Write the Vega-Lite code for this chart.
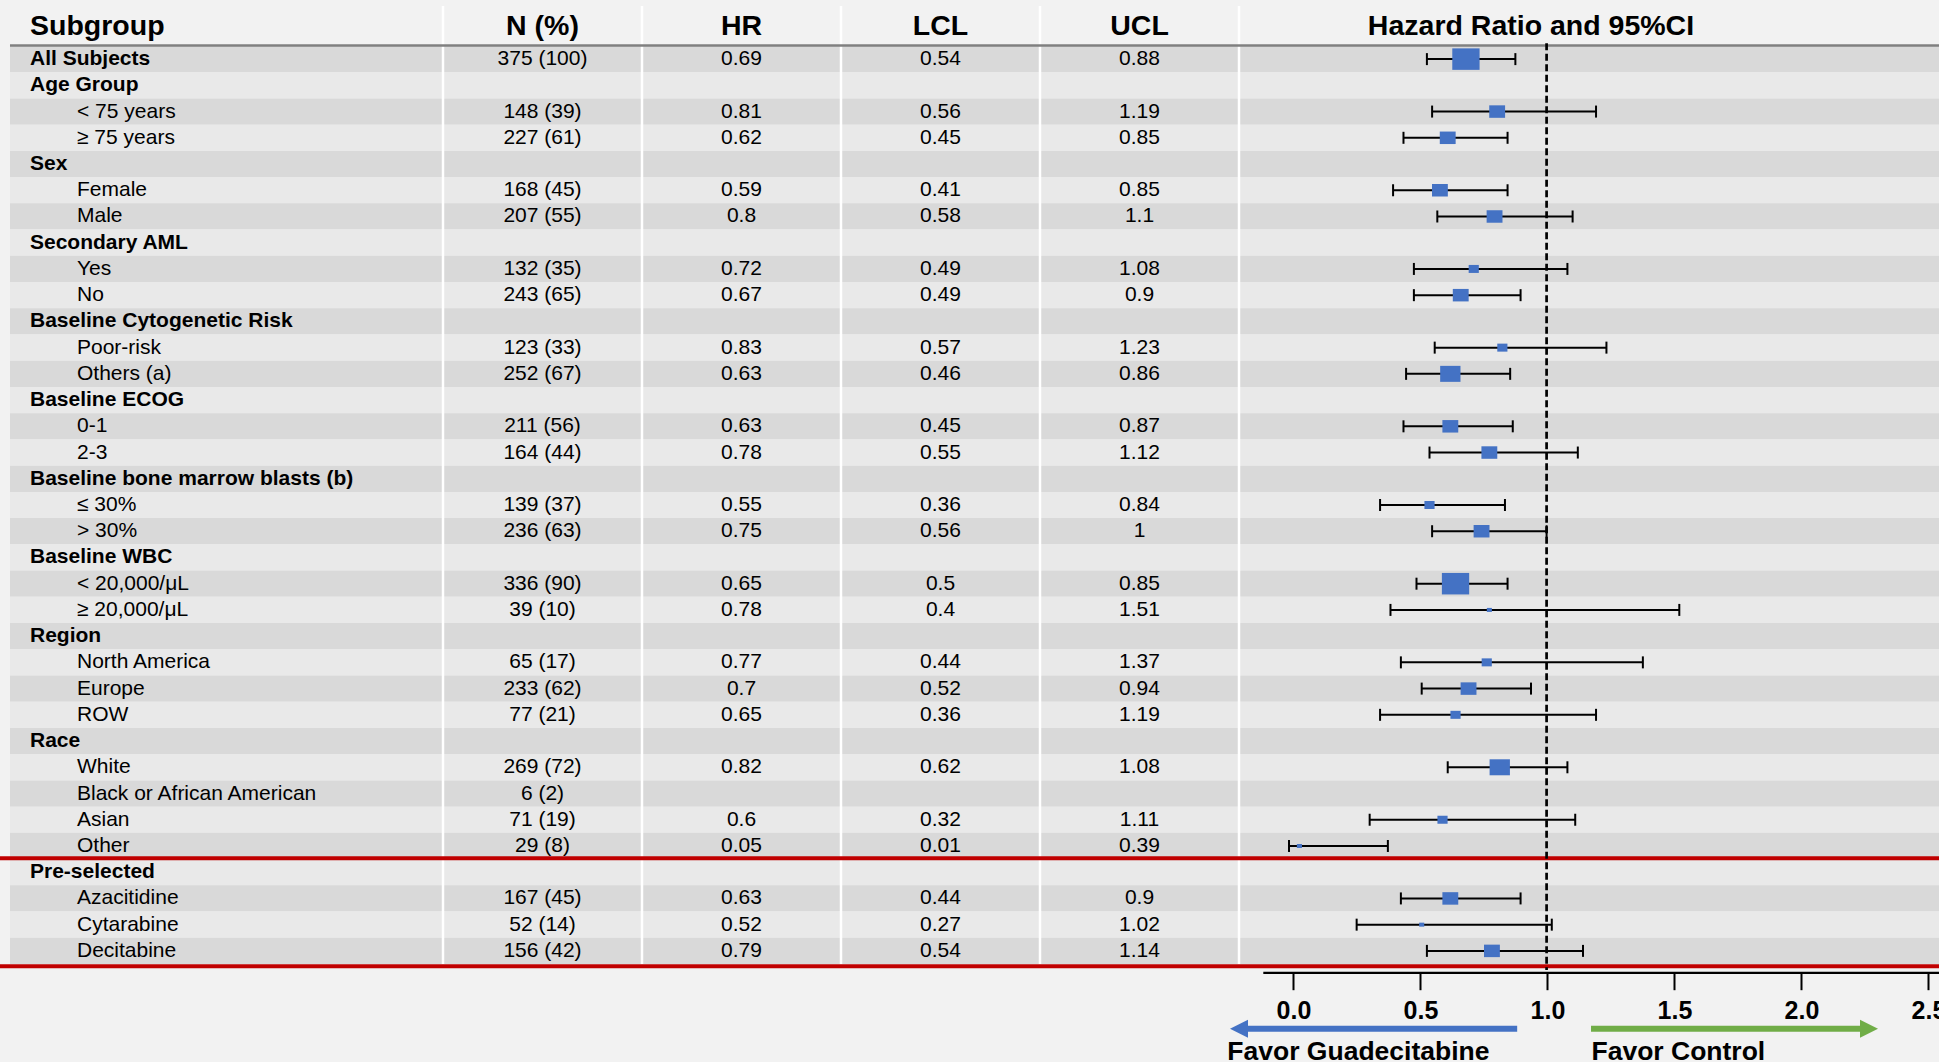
{
  "$schema": "https://vega.github.io/schema/vega-lite/v6.json",
  "width": 1939,
  "height": 1062,
  "autosize": {"type": "none"},
  "padding": 0,
  "background": "#f2f2f2",
  "config": {"view": {"stroke": null}, "font": "Liberation Sans", "text": {"font": "Liberation Sans"}},
  "data": {"values": [{}]},
  "datasets": {
    "rows": [
      {"i":1,"label":"All Subjects","lvl":"group","np":"375 (100)","N":375,"HR":0.69,"LCL":0.54,"UCL":0.88},
      {"i":2,"label":"Age Group","lvl":"group"},
      {"i":3,"label":"< 75 years","lvl":"item","np":"148 (39)","N":148,"HR":0.81,"LCL":0.56,"UCL":1.19},
      {"i":4,"label":"≥ 75 years","lvl":"item","np":"227 (61)","N":227,"HR":0.62,"LCL":0.45,"UCL":0.85},
      {"i":5,"label":"Sex","lvl":"group"},
      {"i":6,"label":"Female","lvl":"item","np":"168 (45)","N":168,"HR":0.59,"LCL":0.41,"UCL":0.85},
      {"i":7,"label":"Male","lvl":"item","np":"207 (55)","N":207,"HR":0.8,"LCL":0.58,"UCL":1.1},
      {"i":8,"label":"Secondary AML","lvl":"group"},
      {"i":9,"label":"Yes","lvl":"item","np":"132 (35)","N":132,"HR":0.72,"LCL":0.49,"UCL":1.08},
      {"i":10,"label":"No","lvl":"item","np":"243 (65)","N":243,"HR":0.67,"LCL":0.49,"UCL":0.9},
      {"i":11,"label":"Baseline Cytogenetic Risk","lvl":"group"},
      {"i":12,"label":"Poor-risk","lvl":"item","np":"123 (33)","N":123,"HR":0.83,"LCL":0.57,"UCL":1.23},
      {"i":13,"label":"Others (a)","lvl":"item","np":"252 (67)","N":252,"HR":0.63,"LCL":0.46,"UCL":0.86},
      {"i":14,"label":"Baseline ECOG","lvl":"group"},
      {"i":15,"label":"0-1","lvl":"item","np":"211 (56)","N":211,"HR":0.63,"LCL":0.45,"UCL":0.87},
      {"i":16,"label":"2-3","lvl":"item","np":"164 (44)","N":164,"HR":0.78,"LCL":0.55,"UCL":1.12},
      {"i":17,"label":"Baseline bone marrow blasts (b)","lvl":"group"},
      {"i":18,"label":"≤ 30%","lvl":"item","np":"139 (37)","N":139,"HR":0.55,"LCL":0.36,"UCL":0.84},
      {"i":19,"label":"> 30%","lvl":"item","np":"236 (63)","N":236,"HR":0.75,"LCL":0.56,"UCL":1},
      {"i":20,"label":"Baseline WBC","lvl":"group"},
      {"i":21,"label":"< 20,000/μL","lvl":"item","np":"336 (90)","N":336,"HR":0.65,"LCL":0.5,"UCL":0.85},
      {"i":22,"label":"≥ 20,000/μL","lvl":"item","np":"39 (10)","N":39,"HR":0.78,"LCL":0.4,"UCL":1.51},
      {"i":23,"label":"Region","lvl":"group"},
      {"i":24,"label":"North America","lvl":"item","np":"65 (17)","N":65,"HR":0.77,"LCL":0.44,"UCL":1.37},
      {"i":25,"label":"Europe","lvl":"item","np":"233 (62)","N":233,"HR":0.7,"LCL":0.52,"UCL":0.94},
      {"i":26,"label":"ROW","lvl":"item","np":"77 (21)","N":77,"HR":0.65,"LCL":0.36,"UCL":1.19},
      {"i":27,"label":"Race","lvl":"group"},
      {"i":28,"label":"White","lvl":"item","np":"269 (72)","N":269,"HR":0.82,"LCL":0.62,"UCL":1.08},
      {"i":29,"label":"Black or African American","lvl":"item","np":"6 (2)","N":6},
      {"i":30,"label":"Asian","lvl":"item","np":"71 (19)","N":71,"HR":0.6,"LCL":0.32,"UCL":1.11},
      {"i":31,"label":"Other","lvl":"item","np":"29 (8)","N":29,"HR":0.05,"LCL":0.01,"UCL":0.39},
      {"i":32,"label":"Pre-selected","lvl":"group"},
      {"i":33,"label":"Azacitidine","lvl":"item","np":"167 (45)","N":167,"HR":0.63,"LCL":0.44,"UCL":0.9},
      {"i":34,"label":"Cytarabine","lvl":"item","np":"52 (14)","N":52,"HR":0.52,"LCL":0.27,"UCL":1.02},
      {"i":35,"label":"Decitabine","lvl":"item","np":"156 (42)","N":156,"HR":0.79,"LCL":0.54,"UCL":1.14}
    ],
    "hdr": [
      {"col":"np","t":"N (%)"},
      {"col":"HR","t":"HR"},
      {"col":"LCL","t":"LCL"},
      {"col":"UCL","t":"UCL"}
    ]
  },
  "resolve": {"scale": {"x": "independent", "y": "independent"}},
  "layer": [
    {
      "data": {"name": "rows"},
      "mark": {"type": "rect", "strokeWidth": 0},
      "encoding": {
        "y": {"field": "i", "type": "ordinal", "scale": {"type": "band", "domain": [1,2,3,4,5,6,7,8,9,10,11,12,13,14,15,16,17,18,19,20,21,22,23,24,25,26,27,28,29,30,31,32,33,34,35], "range": [46, 964], "paddingInner": 0, "paddingOuter": 0}, "axis": null},
        "x": {"datum": -4.9055, "type": "quantitative", "scale": {"domain": [-4.9439, 2.5081], "nice": false, "zero": false}, "axis": null},
        "x2": {"datum": 2.5081},
        "fill": {"condition": {"test": "datum.i % 2 == 1", "value": "#d9d9d9"}, "value": "#e9e9e9"}
      }
    },
    {
      "data": {"name": "hdr"},
      "mark": {"type": "rule", "color": "#ffffff", "strokeWidth": 2.5},
      "encoding": {
        "x": {"field": "col", "type": "nominal", "bandPosition": 0, "scale": {"type": "band", "domain": ["np","HR","LCL","UCL"], "range": [443, 1239], "paddingInner": 0, "paddingOuter": 0}, "axis": null},
        "y": {"datum": -1.025, "type": "quantitative", "scale": {"domain": [-1.2537, 39.235], "reverse": true, "nice": false, "zero": false}, "axis": null},
        "y2": {"datum": 35.5}
      }
    },
    {
      "data": {"name": "hdr"},
      "transform": [{"filter": "datum.col == 'UCL'"}],
      "mark": {"type": "rule", "color": "#ffffff", "strokeWidth": 2.5},
      "encoding": {
        "x": {"field": "col", "type": "nominal", "bandPosition": 1, "scale": {"type": "band", "domain": ["np","HR","LCL","UCL"], "range": [443, 1239], "paddingInner": 0, "paddingOuter": 0}, "axis": null},
        "y": {"datum": -1.025, "type": "quantitative", "scale": {"domain": [-1.2537, 39.235], "reverse": true, "nice": false, "zero": false}, "axis": null},
        "y2": {"datum": 35.5}
      }
    },
    {
      "mark": {"type": "rule", "color": "#808080", "strokeWidth": 2.5},
      "encoding": {
        "x": {"datum": -4.9055, "type": "quantitative", "scale": {"domain": [-4.9439, 2.5081], "nice": false, "zero": false}, "axis": null},
        "x2": {"datum": 2.5081},
        "y": {"datum": 0.48, "type": "quantitative", "scale": {"domain": [-1.2537, 39.235], "reverse": true, "nice": false, "zero": false}, "axis": null}
      }
    },
    {
      "data": {"name": "rows"},
      "transform": [{"filter": "datum.lvl == 'group'"}],
      "mark": {"type": "text", "align": "left", "baseline": "middle", "fontSize": 21, "fontWeight": "bold", "color": "#000000"},
      "encoding": {
        "x": {"field": "lvl", "type": "nominal", "scale": {"type": "point", "domain": ["group","item"], "range": [30, 77], "padding": 0}, "axis": null},
        "y": {"field": "i", "type": "ordinal", "scale": {"type": "band", "domain": [1,2,3,4,5,6,7,8,9,10,11,12,13,14,15,16,17,18,19,20,21,22,23,24,25,26,27,28,29,30,31,32,33,34,35], "range": [46, 964], "paddingInner": 0, "paddingOuter": 0}, "axis": null},
        "text": {"field": "label", "type": "nominal"}
      }
    },
    {
      "data": {"name": "rows"},
      "transform": [{"filter": "datum.lvl == 'item'"}],
      "mark": {"type": "text", "align": "left", "baseline": "middle", "fontSize": 21, "fontWeight": "normal", "color": "#000000"},
      "encoding": {
        "x": {"field": "lvl", "type": "nominal", "scale": {"type": "point", "domain": ["group","item"], "range": [30, 77], "padding": 0}, "axis": null},
        "y": {"field": "i", "type": "ordinal", "scale": {"type": "band", "domain": [1,2,3,4,5,6,7,8,9,10,11,12,13,14,15,16,17,18,19,20,21,22,23,24,25,26,27,28,29,30,31,32,33,34,35], "range": [46, 964], "paddingInner": 0, "paddingOuter": 0}, "axis": null},
        "text": {"field": "label", "type": "nominal"}
      }
    },
    {
      "data": {"name": "rows"},
      "transform": [{"fold": ["np","HR","LCL","UCL"]}, {"filter": "isValid(datum.value)"}],
      "mark": {"type": "text", "align": "center", "baseline": "middle", "fontSize": 21, "color": "#000000"},
      "encoding": {
        "x": {"field": "key", "type": "nominal", "scale": {"type": "band", "domain": ["np","HR","LCL","UCL"], "range": [443, 1239], "paddingInner": 0, "paddingOuter": 0}, "axis": null},
        "y": {"field": "i", "type": "ordinal", "scale": {"type": "band", "domain": [1,2,3,4,5,6,7,8,9,10,11,12,13,14,15,16,17,18,19,20,21,22,23,24,25,26,27,28,29,30,31,32,33,34,35], "range": [46, 964], "paddingInner": 0, "paddingOuter": 0}, "axis": null},
        "text": {"field": "value", "type": "nominal"}
      }
    },
    {
      "data": {"name": "hdr"},
      "mark": {"type": "text", "align": "center", "baseline": "middle", "fontSize": 28.5, "fontWeight": "bold", "color": "#000000"},
      "encoding": {
        "x": {"field": "col", "type": "nominal", "scale": {"type": "band", "domain": ["np","HR","LCL","UCL"], "range": [443, 1239], "paddingInner": 0, "paddingOuter": 0}, "axis": null},
        "y": {"datum": -0.25, "type": "quantitative", "scale": {"domain": [-1.2537, 39.235], "reverse": true, "nice": false, "zero": false}, "axis": null},
        "text": {"field": "t", "type": "nominal"}
      }
    },
    {
      "mark": {"type": "text", "align": "left", "baseline": "middle", "fontSize": 28.5, "fontWeight": "bold", "color": "#000000", "text": "Subgroup"},
      "encoding": {
        "x": {"datum": "group", "type": "nominal", "scale": {"type": "point", "domain": ["group","item"], "range": [30, 77], "padding": 0}, "axis": null},
        "y": {"datum": -0.25, "type": "quantitative", "scale": {"domain": [-1.2537, 39.235], "reverse": true, "nice": false, "zero": false}, "axis": null}
      }
    },
    {
      "mark": {"type": "text", "align": "center", "baseline": "middle", "fontSize": 28.5, "fontWeight": "bold", "color": "#000000", "text": "Hazard Ratio and 95%CI"},
      "encoding": {
        "x": {"datum": 0.94, "type": "quantitative", "scale": {"domain": [-4.9439, 2.5081], "nice": false, "zero": false}, "axis": null},
        "y": {"datum": -0.25, "type": "quantitative", "scale": {"domain": [-1.2537, 39.235], "reverse": true, "nice": false, "zero": false}, "axis": null}
      }
    },
    {
      "data": {"name": "rows"},
      "transform": [{"filter": {"field": "HR", "valid": true}}],
      "mark": {"type": "rule", "color": "#000000", "strokeWidth": 2},
      "encoding": {
        "x": {"field": "LCL", "type": "quantitative", "scale": {"domain": [-4.9439, 2.5081], "nice": false, "zero": false}, "axis": null},
        "x2": {"field": "UCL"},
        "y": {"field": "i", "type": "ordinal", "scale": {"type": "band", "domain": [1,2,3,4,5,6,7,8,9,10,11,12,13,14,15,16,17,18,19,20,21,22,23,24,25,26,27,28,29,30,31,32,33,34,35], "range": [46, 964], "paddingInner": 0, "paddingOuter": 0}, "axis": null}
      }
    },
    {
      "data": {"name": "rows"},
      "transform": [{"filter": {"field": "HR", "valid": true}}],
      "mark": {"type": "tick", "color": "#000000", "size": 12, "thickness": 2, "orient": "vertical", "opacity": 1},
      "encoding": {
        "x": {"field": "LCL", "type": "quantitative", "scale": {"domain": [-4.9439, 2.5081], "nice": false, "zero": false}, "axis": null},
        "y": {"field": "i", "type": "ordinal", "scale": {"type": "band", "domain": [1,2,3,4,5,6,7,8,9,10,11,12,13,14,15,16,17,18,19,20,21,22,23,24,25,26,27,28,29,30,31,32,33,34,35], "range": [46, 964], "paddingInner": 0, "paddingOuter": 0}, "axis": null}
      }
    },
    {
      "data": {"name": "rows"},
      "transform": [{"filter": {"field": "HR", "valid": true}}],
      "mark": {"type": "tick", "color": "#000000", "size": 12, "thickness": 2, "orient": "vertical", "opacity": 1},
      "encoding": {
        "x": {"field": "UCL", "type": "quantitative", "scale": {"domain": [-4.9439, 2.5081], "nice": false, "zero": false}, "axis": null},
        "y": {"field": "i", "type": "ordinal", "scale": {"type": "band", "domain": [1,2,3,4,5,6,7,8,9,10,11,12,13,14,15,16,17,18,19,20,21,22,23,24,25,26,27,28,29,30,31,32,33,34,35], "range": [46, 964], "paddingInner": 0, "paddingOuter": 0}, "axis": null}
      }
    },
    {
      "data": {"name": "rows"},
      "transform": [{"filter": {"field": "HR", "valid": true}}],
      "mark": {"type": "point", "shape": "M-1.27,-1H1.27V1H-1.27Z", "filled": true, "color": "#4472c4", "opacity": 1, "strokeWidth": 0},
      "encoding": {
        "x": {"field": "HR", "type": "quantitative", "scale": {"domain": [-4.9439, 2.5081], "nice": false, "zero": false}, "axis": null},
        "y": {"field": "i", "type": "ordinal", "scale": {"type": "band", "domain": [1,2,3,4,5,6,7,8,9,10,11,12,13,14,15,16,17,18,19,20,21,22,23,24,25,26,27,28,29,30,31,32,33,34,35], "range": [46, 964], "paddingInner": 0, "paddingOuter": 0}, "axis": null},
        "size": {"field": "N", "type": "quantitative", "scale": {"type": "threshold", "domain": [60, 145, 250, 300], "range": [16, 64, 156, 256, 462]}, "legend": null}
      }
    },
    {
      "mark": {"type": "rule", "color": "#c00000", "strokeWidth": 4},
      "encoding": {
        "y": {"datum": 31.47, "type": "quantitative", "scale": {"domain": [-1.2537, 39.235], "reverse": true, "nice": false, "zero": false}, "axis": null}
      }
    },
    {
      "mark": {"type": "rule", "color": "#c00000", "strokeWidth": 4},
      "encoding": {
        "y": {"datum": 35.58, "type": "quantitative", "scale": {"domain": [-1.2537, 39.235], "reverse": true, "nice": false, "zero": false}, "axis": null}
      }
    },
    {
      "mark": {"type": "rule", "color": "#000000", "strokeWidth": 2.7, "strokeDash": [7, 3.5]},
      "encoding": {
        "x": {"datum": 1, "type": "quantitative", "scale": {"domain": [-4.9439, 2.5081], "nice": false, "zero": false}, "axis": null},
        "y": {"datum": 0.397, "type": "quantitative", "scale": {"domain": [-1.2537, 39.235], "reverse": true, "nice": false, "zero": false}, "axis": null},
        "y2": {"datum": 35.73}
      }
    },
    {
      "mark": {"type": "rule", "color": "#000000", "strokeWidth": 2.3},
      "encoding": {
        "x": {"datum": -0.1185, "type": "quantitative", "scale": {"domain": [-5.0921, 2.5417], "nice": false, "zero": false},
          "axis": {"orient": "bottom", "offset": -89.3, "values": [0, 0.5, 1, 1.5, 2, 2.5], "format": ".1f", "domain": false, "grid": false, "title": null, "ticks": true, "tickSize": 17, "tickWidth": 2, "tickColor": "#000000", "labelFontSize": 25, "labelFontWeight": "bold", "labelColor": "#000000", "labelFont": "Liberation Sans", "labelPadding": 9, "labelFlush": false, "labelOverlap": false, "labelBound": false}},
        "x2": {"datum": 2.5417},
        "y": {"datum": 35.834, "type": "quantitative", "scale": {"domain": [-1.2537, 39.235], "reverse": true, "nice": false, "zero": false}, "axis": null}
      }
    },
    {
      "mark": {"type": "rule", "color": "#4472c4", "strokeWidth": 6},
      "encoding": {
        "x": {"datum": 0.881, "type": "quantitative", "scale": {"domain": [-5.0921, 2.5417], "nice": false, "zero": false}, "axis": null},
        "x2": {"datum": -0.1827},
        "y": {"datum": 37.966, "type": "quantitative", "scale": {"domain": [-1.2537, 39.235], "reverse": true, "nice": false, "zero": false}, "axis": null}
      }
    },
    {
      "mark": {"type": "point", "shape": "M0,0L2,-1L2,1Z", "size": 324, "filled": true, "color": "#4472c4", "opacity": 1, "strokeWidth": 0},
      "encoding": {
        "x": {"datum": -0.2496, "type": "quantitative", "scale": {"domain": [-5.0921, 2.5417], "nice": false, "zero": false}, "axis": null},
        "y": {"datum": 37.966, "type": "quantitative", "scale": {"domain": [-1.2537, 39.235], "reverse": true, "nice": false, "zero": false}, "axis": null}
      }
    },
    {
      "mark": {"type": "rule", "color": "#70ad47", "strokeWidth": 6},
      "encoding": {
        "x": {"datum": 1.1717, "type": "quantitative", "scale": {"domain": [-5.0921, 2.5417], "nice": false, "zero": false}, "axis": null},
        "x2": {"datum": 2.2346},
        "y": {"datum": 37.966, "type": "quantitative", "scale": {"domain": [-1.2537, 39.235], "reverse": true, "nice": false, "zero": false}, "axis": null}
      }
    },
    {
      "mark": {"type": "point", "shape": "M0,0L-2,-1L-2,1Z", "size": 324, "filled": true, "color": "#70ad47", "opacity": 1, "strokeWidth": 0},
      "encoding": {
        "x": {"datum": 2.3016, "type": "quantitative", "scale": {"domain": [-5.0921, 2.5417], "nice": false, "zero": false}, "axis": null},
        "y": {"datum": 37.966, "type": "quantitative", "scale": {"domain": [-1.2537, 39.235], "reverse": true, "nice": false, "zero": false}, "axis": null}
      }
    },
    {
      "mark": {"type": "text", "align": "left", "baseline": "alphabetic", "fontSize": 26.5, "fontWeight": "bold", "color": "#000000", "text": "Favor Guadecitabine"},
      "encoding": {
        "x": {"datum": -0.2602, "type": "quantitative", "scale": {"domain": [-5.0921, 2.5417], "nice": false, "zero": false}, "axis": null},
        "y": {"datum": 39.159, "type": "quantitative", "scale": {"domain": [-1.2537, 39.235], "reverse": true, "nice": false, "zero": false}, "axis": null}
      }
    },
    {
      "mark": {"type": "text", "align": "left", "baseline": "alphabetic", "fontSize": 26.5, "fontWeight": "bold", "color": "#000000", "text": "Favor Control"},
      "encoding": {
        "x": {"datum": 1.1736, "type": "quantitative", "scale": {"domain": [-5.0921, 2.5417], "nice": false, "zero": false}, "axis": null},
        "y": {"datum": 39.159, "type": "quantitative", "scale": {"domain": [-1.2537, 39.235], "reverse": true, "nice": false, "zero": false}, "axis": null}
      }
    }
  ]
}
